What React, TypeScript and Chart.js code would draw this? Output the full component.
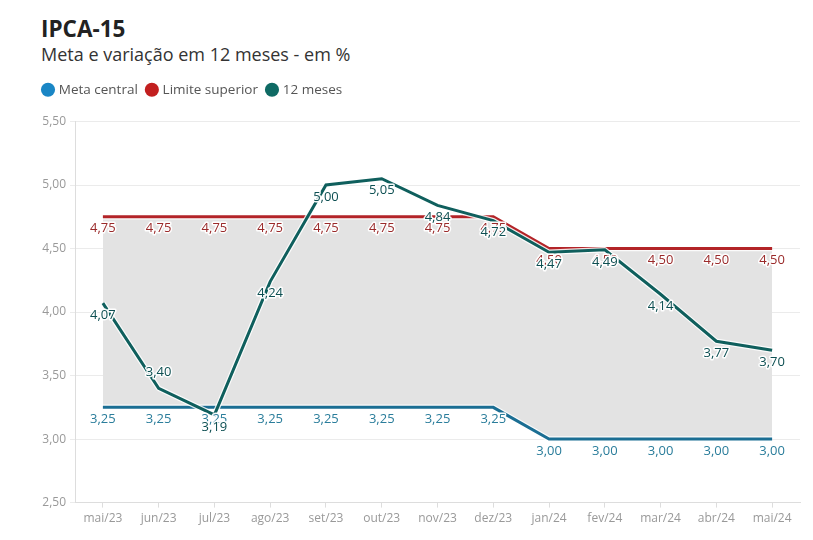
import React, { useEffect, useRef } from "react";
import { Chart, registerables } from "chart.js";

Chart.register(...registerables);

const categories = ["mai/23", "jun/23", "jul/23", "ago/23", "set/23", "out/23", "nov/23", "dez/23", "jan/24", "fev/24", "mar/24", "abr/24", "mai/24"];
const metaCentral = [3.25, 3.25, 3.25, 3.25, 3.25, 3.25, 3.25, 3.25, 3.0, 3.0, 3.0, 3.0, 3.0];
const limiteSuperior = [4.75, 4.75, 4.75, 4.75, 4.75, 4.75, 4.75, 4.75, 4.5, 4.5, 4.5, 4.5, 4.5];
const dozeMeses = [4.07, 3.4, 3.19, 4.24, 5.0, 5.05, 4.84, 4.72, 4.47, 4.49, 4.14, 3.77, 3.7];
const yMin = 2.5;
const yMax = 5.5;
const yStep = 0.5;

const FONT = "'Open Sans', 'Noto Sans', sans-serif";
const fmt = (v: number) => v.toFixed(2).replace(".", ",");

const lineColors = ["#1b6e93", "#b32428", "#0f5f5d"];
const legendColors = ["#1a86c5", "#c21f1f", "#0f6a64"];
const labelColors = ["#2a7d9b", "#9a2a2a", "#0d4f52"];

const haloPlugin = {
  id: "halo",
  beforeDatasetDraw(chart: any, args: any) {
    const meta = args.meta;
    const ctx = chart.ctx;
    const pts = meta.data;
    if (!pts.length) return;
    ctx.save();
    ctx.beginPath();
    pts.forEach((p: any, i: number) => (i ? ctx.lineTo(p.x, p.y) : ctx.moveTo(p.x, p.y)));
    ctx.strokeStyle = "rgba(255,255,255,0.85)";
    ctx.lineWidth = 5.5;
    ctx.lineJoin = "round";
    ctx.stroke();
    ctx.restore();
  },
};

const valueLabelPlugin = {
  id: "valueLabels",
  afterDatasetsDraw(chart: any) {
    const ctx = chart.ctx;
    ctx.save();
    ctx.font = `13px ${FONT}`;
    ctx.textAlign = "center";
    ctx.textBaseline = "middle";
    ctx.lineJoin = "round";
    chart.data.datasets.forEach((ds: any, di: number) => {
      const meta = chart.getDatasetMeta(di);
      meta.data.forEach((p: any, i: number) => {
        const v = ds.data[i];
        const above = di === 2 && i === 1;
        const y = above ? p.y - 16 : p.y + 12;
        const t = fmt(v);
        ctx.strokeStyle = "rgba(255,255,255,0.95)";
        ctx.lineWidth = 3;
        ctx.strokeText(t, p.x, y);
        ctx.fillStyle = labelColors[di];
        ctx.fillText(t, p.x, y);
      });
    });
    ctx.restore();
  },
};

const legendSpacer = {
  id: "legendSpacer",
  beforeUpdate(chart: any) {
    const l = chart.legend;
    if (l && !l._patched) {
      const f = l.fit;
      l.fit = function () {
        f.call(this);
        this.height += 15;
      };
      l._patched = true;
    }
  },
};

export default function App() {
  const ref = useRef<HTMLCanvasElement>(null);
  useEffect(() => {
    if (!ref.current) return;
    const chart = new Chart(ref.current, {
      type: "line",
      data: {
        labels: categories,
        datasets: [
          {
            label: "Meta central",
            data: metaCentral,
            borderColor: lineColors[0],
            backgroundColor: legendColors[0],
            borderWidth: 3,
            pointRadius: 0,
            tension: 0,
            fill: false,
            order: 2,
          },
          {
            label: "Limite superior",
            data: limiteSuperior,
            borderColor: lineColors[1],
            backgroundColor: "#e3e3e3",
            borderWidth: 3,
            pointRadius: 0,
            tension: 0,
            fill: { target: 0 },
            order: 1,
          },
          {
            label: "12 meses",
            data: dozeMeses,
            borderColor: lineColors[2],
            backgroundColor: legendColors[2],
            borderWidth: 3,
            pointRadius: 0,
            tension: 0,
            fill: false,
            order: 0,
          },
        ],
      },
      options: {
        responsive: true,
        maintainAspectRatio: false,
        animation: false,
        layout: { padding: { top: 73, left: 34, right: 13, bottom: 10 } },
        plugins: {
          tooltip: { enabled: false },
          title: { display: false },
          filler: { drawTime: "beforeDatasetsDraw" },
          legend: {
            display: true,
            position: "top",
            align: "start",
            labels: {
              usePointStyle: true,
              pointStyle: "circle",
              boxWidth: 8,
              boxHeight: 10,
              padding: 10,
              color: "#555",
              font: { family: FONT, size: 13.5 },
              generateLabels: (ch: any) =>
                ch.data.datasets.map((ds: any, i: number) => ({
                  text: ds.label,
                  fillStyle: legendColors[i],
                  strokeStyle: legendColors[i],
                  lineWidth: 0,
                  pointStyle: "circle",
                  hidden: false,
                  datasetIndex: i,
                  fontColor: "#555",
                })),
            },
          },
        },
        scales: {
          x: {
            offset: true,
            grid: { drawOnChartArea: false, drawTicks: true, tickLength: 5, color: "#dddddd" },
            border: { display: true, color: "#dddddd" },
            ticks: { color: "#999", font: { family: FONT, size: 12 }, padding: 4, maxRotation: 0 },
          },
          y: {
            min: yMin,
            max: yMax,
            afterFit: (scale: any) => {
              scale.width = 41;
            },
            grid: { color: "#ebebeb", tickLength: 5 },
            border: { display: true, color: "#dddddd" },
            ticks: {
              stepSize: yStep,
              color: "#999",
              font: { family: FONT, size: 12 },
              padding: 4,
              callback: (v: any) => fmt(Number(v)),
            },
          },
        },
      },
      plugins: [legendSpacer, haloPlugin, valueLabelPlugin],
    });
    return () => chart.destroy();
  }, []);

  return (
    <div style={{ position: "fixed", left: 0, top: 0, width: 813, height: 540, background: "#fff" }}>
      <div
        style={{
          position: "absolute",
          left: 41,
          top: 17,
          fontFamily: FONT,
          fontWeight: 700,
          fontSize: 22.5,
          lineHeight: "24px",
          color: "#222",
        }}
      >
        IPCA-15
      </div>
      <div
        style={{
          position: "absolute",
          left: 41,
          top: 43,
          fontFamily: FONT,
          fontSize: 18,
          lineHeight: "22px",
          color: "#333",
        }}
      >
        Meta e variação em 12 meses - em %
      </div>
      <canvas ref={ref} style={{ position: "absolute", left: 0, top: 0, width: 813, height: 540 }} />
    </div>
  );
}
